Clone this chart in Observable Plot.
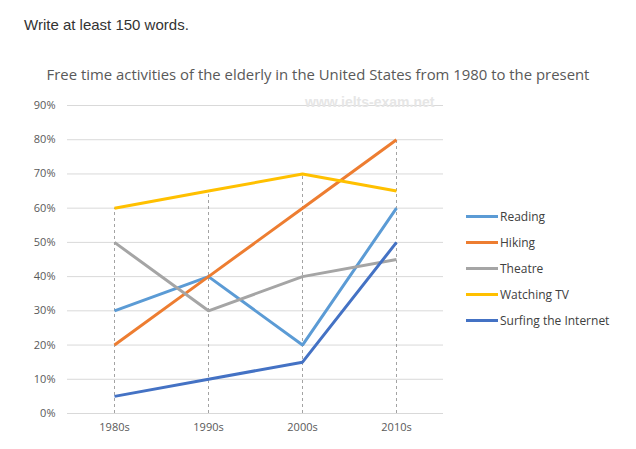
<!DOCTYPE html>
<html><head><meta charset="utf-8">
<script src="https://cdn.jsdelivr.net/npm/d3@7"></script>
<script src="https://cdn.jsdelivr.net/npm/@observablehq/plot@0.6"></script>
<style>
body{margin:0;background:#fff;width:636px;height:449px;position:relative;overflow:hidden;font-family:"Open Sans",sans-serif;}
#prompt{position:absolute;left:24px;top:16px;font-family:"Liberation Sans",Arial,sans-serif;font-size:15px;color:#333;}
#title{position:absolute;left:0;width:636px;top:64px;text-align:center;font-size:14.9px;color:#595959;}
#wm{position:absolute;left:305px;top:94px;font-family:"Liberation Sans",Arial,sans-serif;font-size:14px;color:#e6e6e6;font-weight:bold;}
#chart{position:absolute;left:0;top:90px;}
#legend{position:absolute;left:466px;top:204px;font-size:12px;color:#404040;}
.li{display:flex;align-items:center;height:25.8px;}
.sw{width:32px;height:3px;margin-right:2px;}
</style></head><body>
<div id="prompt">Write at least 150 words.</div>
<div id="title">Free time activities of the elderly in the United States from 1980 to the present</div>
<div id="chart"></div>
<div id="wm">www.ielts-exam.net</div>
<div id="legend"></div>
<script>
const decades = ["1980s","1990s","2000s","2010s"];
const seriesNames = ["Reading","Hiking","Theatre","Watching TV","Surfing the Internet"];
const colors = ["#5B9BD5","#ED7D31","#A5A5A5","#FFC000","#4472C4"];
const reading = [30,40,20,60];
const hiking = [20,40,60,80];
const theatre = [50,30,40,45];
const watchingTV = [60,65,70,65];
const internet = [5,10,15,50];
const yTicks = [0,10,20,30,40,50,60,70,80,90];

const seriesValues = [reading,hiking,theatre,watchingTV,internet];
const rows = [];
seriesNames.forEach((s,i)=>decades.forEach((d,j)=>rows.push({series:s,decade:d,value:seriesValues[i][j]})));
const drops = decades.map((d,j)=>({decade:d,max:d3.max(seriesValues,v=>v[j])}));

const chart = Plot.plot({
  width:450, height:355,
  marginLeft:67, marginRight:7, marginTop:15, marginBottom:32,
  style:{fontFamily:"'Open Sans',sans-serif",fontSize:"11px",color:"#595959",background:"transparent"},
  x:{type:"point",domain:decades,padding:0.5,label:null,tickSize:0,tickPadding:10},
  y:{domain:[0,90],ticks:yTicks,label:null,tickSize:0,tickPadding:12,tickFormat:d=>d+"%"},
  color:{domain:seriesNames,range:colors},
  marks:[
    Plot.gridY(yTicks,{stroke:"#d9d9d9",strokeOpacity:1,strokeWidth:1}),
    Plot.ruleX(drops,{x:"decade",y1:0,y2:"max",stroke:"#8c8c8c",strokeWidth:0.8,strokeDasharray:"3,3"}),
    Plot.axisX({tickSize:0,tickPadding:10,fill:"#595959"}),
    Plot.axisY({ticks:yTicks,tickSize:0,tickPadding:12,tickFormat:d=>d+"%",fill:"#595959"}),
    Plot.line(rows,{x:"decade",y:"value",z:"series",stroke:"series",strokeWidth:3,strokeLinejoin:"miter",strokeLinecap:"butt"})
  ]
});
document.getElementById("chart").appendChild(chart);

const lg = document.getElementById("legend");
seriesNames.forEach((s,i)=>{
  const row=document.createElement("div");row.className="li";
  const sw=document.createElement("div");sw.className="sw";sw.style.background=colors[i];
  const t=document.createElement("span");t.textContent=s;
  row.appendChild(sw);row.appendChild(t);lg.appendChild(row);
});
</script>
</body></html>
